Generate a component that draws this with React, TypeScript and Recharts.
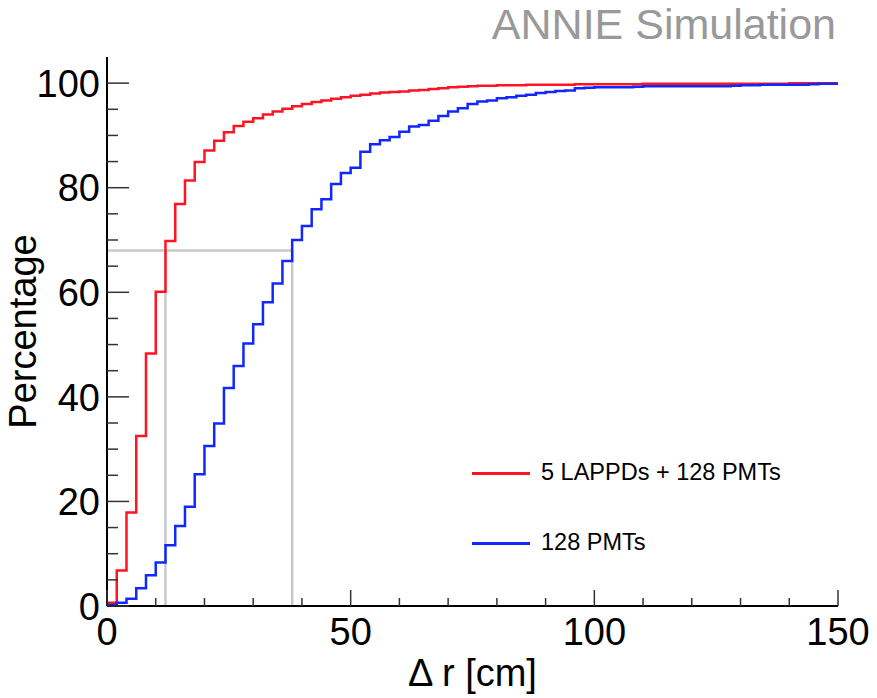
import React from 'react';
import { LineChart, Line, XAxis, YAxis, ReferenceLine } from 'recharts';

// lower edges of the 2 cm bins, plus the last upper edge
const binEdges = [
  0, 2, 4, 6, 8, 10, 12, 14, 16, 18, 20, 22, 24, 26, 28, 30, 32, 34, 36, 38,
  40, 42, 44, 46, 48, 50, 52, 54, 56, 58, 60, 62, 64, 66, 68, 70, 72, 74, 76, 78,
  80, 82, 84, 86, 88, 90, 92, 94, 96, 98, 100, 102, 104, 106, 108, 110, 112, 114, 116, 118,
  120, 122, 124, 126, 128, 130, 132, 134, 136, 138, 140, 142, 144, 146, 148, 150,
];

// cumulative percentage, 5 LAPPDs + 128 PMTs
const lappdPmt = [
  0.6, 6.8, 17.9, 32.5, 48.3, 60.1, 69.8, 76.9, 81.4, 84.9, 87.1, 89.0, 90.6, 91.8, 92.6, 93.3, 94.0, 94.6, 95.1, 95.6,
  96.0, 96.4, 96.7, 97.0, 97.3, 97.6, 97.8, 98.0, 98.2, 98.3, 98.4, 98.6, 98.7, 98.9, 99.0, 99.2, 99.3, 99.4, 99.5, 99.5,
  99.6, 99.6, 99.6, 99.7, 99.7, 99.7, 99.7, 99.7, 99.8, 99.8, 99.8, 99.8, 99.8, 99.8, 99.8, 99.9, 99.9, 99.9, 99.9, 99.9,
  99.9, 99.9, 99.9, 99.9, 99.9, 99.9, 99.9, 99.9, 99.9, 99.9, 100.0, 100.0, 100.0, 100.0, 100.0,
];

// cumulative percentage, 128 PMTs only
const pmtOnly = [
  0.2, 0.6, 1.4, 3.4, 5.9, 8.3, 11.6, 15.3, 19.0, 25.2, 30.6, 34.9, 41.7, 45.9, 50.2, 53.9, 58.1, 61.7, 66.0, 70.0,
  72.7, 75.9, 77.8, 80.7, 82.8, 83.8, 86.9, 88.3, 89.1, 89.7, 90.7, 91.7, 92.0, 92.8, 93.7, 94.6, 95.2, 96.0, 96.5, 96.7,
  97.1, 97.3, 97.6, 97.8, 98.1, 98.3, 98.5, 98.6, 99.0, 99.1, 99.2, 99.2, 99.2, 99.2, 99.3, 99.4, 99.4, 99.4, 99.4, 99.4,
  99.4, 99.4, 99.4, 99.4, 99.5, 99.6, 99.6, 99.7, 99.7, 99.7, 99.7, 99.7, 99.8, 99.9, 99.9,
];

const xTicks = [0, 10, 20, 30, 40, 50, 60, 70, 80, 90, 100, 110, 120, 130, 140, 150];
const yTicks = [0, 5, 10, 15, 20, 25, 30, 35, 40, 45, 50, 55, 60, 65, 70, 75, 80, 85, 90, 95, 100];

// 68% containment guide
const containment = 68;
const radiusLappd = 12;
const radiusPmt = 38;

const series = [
  { key: 'lappd', name: '5 LAPPDs + 128 PMTs', color: '#ff1424', values: lappdPmt },
  { key: 'pmt', name: '128 PMTs', color: '#1028ff', values: pmtOnly },
];

const data = binEdges.map((x, i) => {
  const row: Record<string, number> = { x };
  series.forEach((s) => {
    row[s.key] = s.values[Math.min(i, s.values.length - 1)];
  });
  return row;
});

// frame layout
const W = 877;
const H = 698;
const margin = { top: 57, right: 39, bottom: 0, left: 0 };
const yAxisWidth = 107;
const xAxisHeight = 92;
const frameLeft = margin.left + yAxisWidth;
const frameRight = W - margin.right;
const frameTop = margin.top;
const frameBottom = H - xAxisHeight;

const FONT = '"Liberation Sans", Arial, Helvetica, sans-serif';
const TICK = '#333';

const BottomTick = (props: any) => {
  const { x, payload } = props;
  const y = frameBottom;
  const major = payload.value % 50 === 0;
  return (
    <g>
      <line x1={x} x2={x} y1={y} y2={y - (major ? 16 : 8)} stroke={TICK} strokeWidth={1.5} />
      {major && (
        <text x={x} y={y + 39} textAnchor="middle" fontSize={38} fontFamily={FONT} fill="#000">
          {payload.value}
        </text>
      )}
    </g>
  );
};

const TopTick = (props: any) => {
  const { x, payload } = props;
  const y = frameTop;
  const major = payload.value % 50 === 0;
  return <line x1={x} x2={x} y1={y} y2={y + (major ? 16 : 8)} stroke={TICK} strokeWidth={1.5} />;
};

const LeftTick = (props: any) => {
  const { y, payload } = props;
  const x = frameLeft;
  const major = payload.value % 20 === 0;
  return (
    <g>
      <line x1={x} x2={x + (major ? 22 : 11)} y1={y} y2={y} stroke={TICK} strokeWidth={1.5} />
      {major && (
        <text x={x - 7} y={y} dy="0.36em" textAnchor="end" fontSize={38} fontFamily={FONT} fill="#000">
          {payload.value}
        </text>
      )}
    </g>
  );
};

const RightTick = (props: any) => {
  const { y, payload } = props;
  const x = frameRight;
  const major = payload.value % 20 === 0;
  return <line x1={x} x2={x - (major ? 22 : 11)} y1={y} y2={y} stroke={TICK} strokeWidth={1.5} />;
};

const XTitle = () => (
  <text x={(frameLeft + frameRight) / 2} y={686} textAnchor="middle" fontSize={38} fontFamily={FONT} fill="#000">
    Δ r [cm]
  </text>
);

const YTitle = () => {
  const cy = (frameTop + frameBottom) / 2;
  return (
    <text
      x={36}
      y={cy}
      transform={`rotate(-90 36 ${cy})`}
      textAnchor="middle"
      fontSize={38}
      fontFamily={FONT}
      fill="#000"
    >
      Percentage
    </text>
  );
};

const frameLine = { stroke: '#000', strokeWidth: 2 };

const App = () => {
  return (
    <div style={{ position: 'absolute', left: 0, top: 0, width: W, height: H, background: '#fff', fontFamily: FONT }}>
      <LineChart width={W} height={H} data={data} margin={margin}>
        <XAxis
          dataKey="x"
          type="number"
          domain={[0, 150]}
          ticks={xTicks}
          interval={0}
          height={xAxisHeight}
          tickSize={0}
          tickMargin={0}
          tickLine={false}
          tick={<BottomTick />}
          axisLine={frameLine}
          label={<XTitle />}
        />
        <XAxis
          xAxisId="top"
          orientation="top"
          dataKey="x"
          type="number"
          domain={[0, 150]}
          ticks={xTicks}
          interval={0}
          height={0}
          tickSize={0}
          tickMargin={0}
          tickLine={false}
          tick={<TopTick />}
          axisLine={frameLine}
        />
        <YAxis
          type="number"
          domain={[0, 105]}
          ticks={yTicks}
          interval={0}
          width={yAxisWidth}
          tickSize={0}
          tickMargin={0}
          tickLine={false}
          tick={<LeftTick />}
          axisLine={frameLine}
          label={<YTitle />}
        />
        <YAxis
          yAxisId="right"
          orientation="right"
          type="number"
          domain={[0, 105]}
          ticks={yTicks}
          interval={0}
          width={0}
          tickSize={0}
          tickMargin={0}
          tickLine={false}
          tick={<RightTick />}
          axisLine={frameLine}
        />
        <ReferenceLine
          segment={[{ x: 0, y: containment }, { x: radiusPmt, y: containment }]}
          stroke="#c8c8c8"
          strokeWidth={2.5}
        />
        <ReferenceLine
          segment={[{ x: radiusLappd, y: 0 }, { x: radiusLappd, y: containment }]}
          stroke="#c8c8c8"
          strokeWidth={2.5}
        />
        <ReferenceLine
          segment={[{ x: radiusPmt, y: 0 }, { x: radiusPmt, y: containment }]}
          stroke="#c8c8c8"
          strokeWidth={2.5}
        />
        {series.map((s) => (
          <Line
            key={s.key}
            dataKey={s.key}
            name={s.name}
            type="stepAfter"
            stroke={s.color}
            strokeWidth={2.5}
            dot={false}
            activeDot={false}
            isAnimationActive={false}
          />
        ))}
      </LineChart>

      <div
        style={{
          position: 'absolute',
          right: 41,
          top: 7,
          fontSize: 43,
          lineHeight: 0.8,
          color: '#999',
          whiteSpace: 'nowrap',
        }}
      >
        ANNIE Simulation
      </div>

      {series.map((s, i) => (
        <div
          key={s.key}
          style={{
            position: 'absolute',
            left: 472,
            top: 473 + i * 70 - 15,
            height: 30,
            display: 'flex',
            alignItems: 'center',
            whiteSpace: 'nowrap',
          }}
        >
          <div style={{ width: 58, height: 3, background: s.color }} />
          <span style={{ marginLeft: 11, fontSize: 23.5, lineHeight: 1, color: '#000' }}>{s.name}</span>
        </div>
      ))}
    </div>
  );
};

export default App;
